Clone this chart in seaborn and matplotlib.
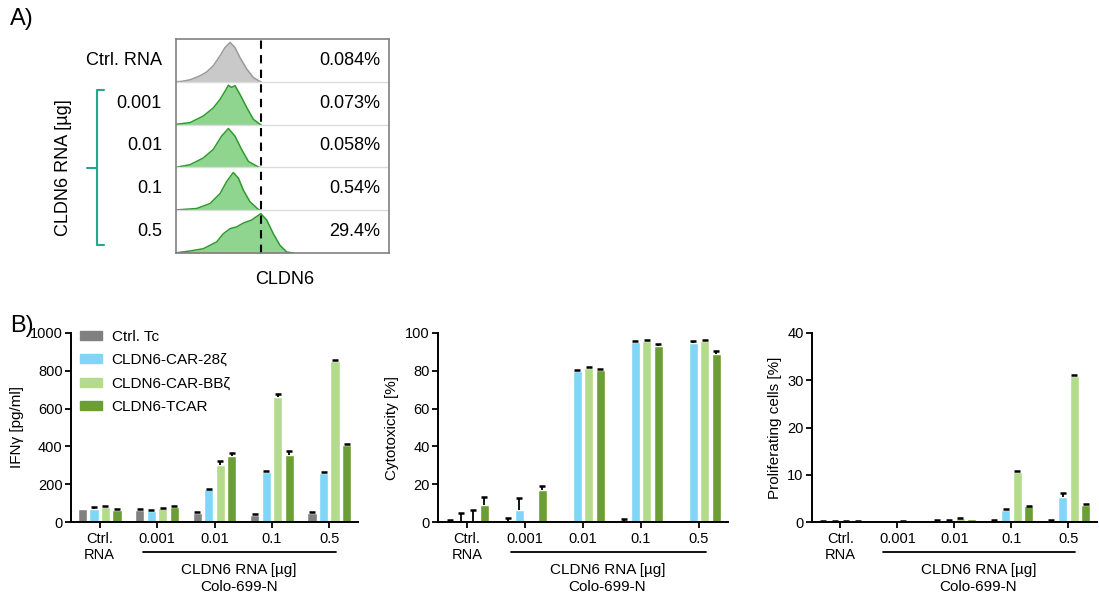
import numpy as np
import pandas as pd

import matplotlib
matplotlib.use("Agg")
import matplotlib.pyplot as plt
import matplotlib.patches as mpatches
import seaborn as sns

sns.set_style("ticks")
plt.rcParams['font.family'] = ['Liberation Sans', 'DejaVu Sans']
for key in ["text.color", "axes.labelcolor", "xtick.color", "ytick.color", "axes.edgecolor"]:
    plt.rcParams[key] = "black"

# ---- panel A: flow histograms (x, height as fraction of the row) ----
hist_rows = ["Ctrl. RNA", "0.001", "0.01", "0.1", "0.5"]
hist_pct = ["0.084%", "0.073%", "0.058%", "0.54%", "29.4%"]
hist_x = [
    [0.0, 0.027, 0.066, 0.113, 0.144, 0.175, 0.207, 0.23, 0.254, 0.277, 0.30, 0.332, 0.363, 0.394, 0.40],
    [0.0, 0.006, 0.066, 0.128, 0.175, 0.207, 0.23, 0.246, 0.261, 0.277, 0.30, 0.332, 0.363, 0.394, 0.40],
    [0.0, 0.006, 0.066, 0.128, 0.175, 0.214, 0.246, 0.277, 0.308, 0.34, 0.387, 0.395],
    [0.0, 0.006, 0.097, 0.16, 0.207, 0.238, 0.269, 0.293, 0.316, 0.347, 0.387, 0.395],
    [0.0, 0.006, 0.066, 0.128, 0.191, 0.222, 0.254, 0.285, 0.316, 0.355, 0.398, 0.426, 0.457, 0.488, 0.52, 0.551],
]
hist_h = [
    [0.0, 0.01, 0.047, 0.14, 0.23, 0.375, 0.61, 0.80, 0.92, 0.80, 0.57, 0.30, 0.10, 0.01, 0.0],
    [0.0, 0.01, 0.047, 0.20, 0.39, 0.59, 0.78, 0.92, 0.87, 0.91, 0.71, 0.40, 0.125, 0.01, 0.0],
    [0.0, 0.008, 0.063, 0.22, 0.42, 0.73, 0.91, 0.73, 0.42, 0.14, 0.008, 0.0],
    [0.0, 0.008, 0.04, 0.157, 0.39, 0.67, 0.88, 0.75, 0.47, 0.2, 0.016, 0.0],
    [0.0, 0.008, 0.047, 0.10, 0.26, 0.45, 0.57, 0.61, 0.70, 0.77, 0.92, 0.77, 0.45, 0.18, 0.023, 0.0],
]
gate_x = 0.398

# ---- panel B: bar data (rows = conditions, columns = doses) ----
doses = ["Ctrl.\nRNA", "0.001", "0.01", "0.1", "0.5"]
conditions = ["Ctrl. Tc", "CLDN6-CAR-28ζ", "CLDN6-CAR-BBζ", "CLDN6-TCAR"]
colors = ["#808080", "#80d6f6", "#b4db8c", "#6b9e34"]

ifng_mean = [[70, 62, 50, 38, 48],
             [68, 57, 172, 267, 260],
             [82, 72, 300, 662, 852],
             [63, 80, 348, 357, 410]]
ifng_err = [[0, 8, 5, 4, 4],
            [12, 4, 5, 4, 4],
            [5, 4, 25, 15, 5],
            [5, 5, 15, 20, 5]]

cyto_mean = [[0.3, 0, 0.2, 0, 0],
             [0, 6.5, 80, 95.5, 94.5],
             [0, 0.3, 81.5, 96, 96],
             [9, 17, 80.5, 93, 89]]
cyto_err = [[0.8, 2, 0, 1.5, 0],
            [4.6, 6, 0.6, 0.4, 1.2],
            [6.2, 0, 0.6, 0.4, 0.5],
            [4, 2, 0.4, 1, 1.5]]

prolif_mean = [[0.15, 0.05, 0.2, 0.2, 0.25],
               [0.1, 0, 0.2, 2.6, 5.3],
               [0.15, 0.1, 0.8, 10.5, 31],
               [0.1, 0, 0.6, 3.3, 3.7]]
prolif_err = [[0.15, 0, 0.15, 0.15, 0.2],
              [0.1, 0, 0.15, 0.15, 0.8],
              [0.15, 0.15, 0.15, 0.2, 0.15],
              [0.1, 0, 0, 0.15, 0.15]]


def draw_histograms(ax):
    n = len(hist_rows)
    for i in range(n):
        base = n - 1 - i
        xs = np.array(hist_x[i])
        ys = base + np.array(hist_h[i])
        if i == 0:
            fc, ec = "#c9c9c9", "#9a9a9a"
        else:
            fc, ec = "#8fd48f", "#2e9b2e"
        ax.fill_between(xs, base, ys, color=fc, lw=0)
        ax.plot(xs, ys, color=ec, lw=1.1)
        if i > 0:
            ax.axhline(base + 1, color="#dcdcdc", lw=1)
        ax.text(0.958, base + 0.5, hist_pct[i], ha="right", va="center", fontsize=13)
        ax.text(-0.066, base + 0.5, hist_rows[i], ha="right", va="center", fontsize=13,
                clip_on=False)
    ax.plot([gate_x, gate_x], [0, n], color="black", lw=1.5, dashes=(4, 3))
    ax.set_xlim(0, 1)
    ax.set_ylim(0, n)
    ax.set_xticks([])
    ax.set_yticks([])
    for s in ax.spines.values():
        s.set_color("#808080")
        s.set_linewidth(1.2)
    # bracket for CLDN6 RNA doses
    bc = "#22a88a"
    ax.plot([-0.338, -0.371, -0.371, -0.338], [3.81, 3.81, 0.187, 0.187], color=bc, lw=1.5,
            clip_on=False)
    ax.plot([-0.418, -0.371], [1.99, 1.99], color=bc, lw=1.5, clip_on=False)
    ax.text(-0.53, 2.0, "CLDN6 RNA [µg]", rotation=90, ha="center", va="center", fontsize=13)
    ax.text(0.512, -0.63, "CLDN6", ha="center", va="center", fontsize=13)


def bar_panel(ax, means, errs, ylabel, ymax, step, legend=False):
    df = pd.DataFrame({
        "dose": np.tile(doses, len(conditions)),
        "condition": np.repeat(conditions, len(doses)),
        "value": np.concatenate(means),
    })
    sns.barplot(data=df, x="dose", y="value", hue="condition", order=doses,
                hue_order=conditions, palette=colors, saturation=1, width=0.8, gap=0.2,
                errorbar=None, legend=False, ax=ax)
    bar_sets = list(ax.containers)
    for i, cont in enumerate(bar_sets):
        for j, p in enumerate(cont):
            e = errs[i][j]
            if e > 0:
                eb = ax.errorbar(p.get_x() + p.get_width() / 2, means[i][j], yerr=[[0], [e]],
                                 fmt="none", ecolor="black", elinewidth=1.3, capsize=2.2,
                                 capthick=1.8)
                # keep only the upper cap
                eb[1][0].set_visible(False)
    ax.set_xlim(-0.5, 4.5)
    ax.set_ylim(0, ymax)
    ax.set_yticks(np.arange(0, ymax + 1, step))
    ax.set_xlabel("")
    ax.set_ylabel(ylabel, fontsize=11, labelpad=4)
    ax.tick_params(axis="both", direction="out", length=4, width=1.3, labelsize=10.5, pad=2)
    ax.tick_params(axis="x", pad=3)
    sns.despine(ax=ax)
    for s in ["left", "bottom"]:
        ax.spines[s].set_linewidth(1.4)
    tr = ax.get_xaxis_transform()
    ax.plot([0.75, 4.12], [-0.16, -0.16], transform=tr, color="black", lw=1.3, clip_on=False)
    ax.text(2.42, -0.255, "CLDN6 RNA [µg]", transform=tr, ha="center", va="center", fontsize=11)
    ax.text(2.42, -0.345, "Colo-699-N", transform=tr, ha="center", va="center", fontsize=11)
    if legend:
        handles = [mpatches.Patch(color=c) for c in colors]
        ax.legend(handles, conditions, loc="upper left", bbox_to_anchor=(0.03, 1.018),
                  frameon=False, fontsize=11, handlelength=1.45, handleheight=0.55,
                  handletextpad=0.65, labelspacing=0.62, borderaxespad=0, borderpad=0)


fig = plt.figure(figsize=(10.99, 6.01), dpi=100)
W, H = 1099.0, 601.0

axA = fig.add_axes([176 / W, 1 - 253 / H, 213 / W, 214 / H])
draw_histograms(axA)

bar_bottom = 1 - 522 / H
bar_h = 189 / H
ax1 = fig.add_axes([71 / W, bar_bottom, 287 / W, bar_h])
ax2 = fig.add_axes([438 / W, bar_bottom, 290 / W, bar_h])
ax3 = fig.add_axes([812 / W, bar_bottom, 285 / W, bar_h])

bar_panel(ax1, ifng_mean, ifng_err, "IFNγ [pg/ml]", 1000, 200, legend=True)
bar_panel(ax2, cyto_mean, cyto_err, "Cytotoxicity [%]", 100, 20)
bar_panel(ax3, prolif_mean, prolif_err, "Proliferating cells [%]", 40, 10)

fig.text(10 / W, 1 - 19 / H, "A)", fontsize=17, va="center", ha="left")
fig.text(10 / W, 1 - 326 / H, "B)", fontsize=17, va="center", ha="left")

fig.savefig("out.png", dpi=100)
